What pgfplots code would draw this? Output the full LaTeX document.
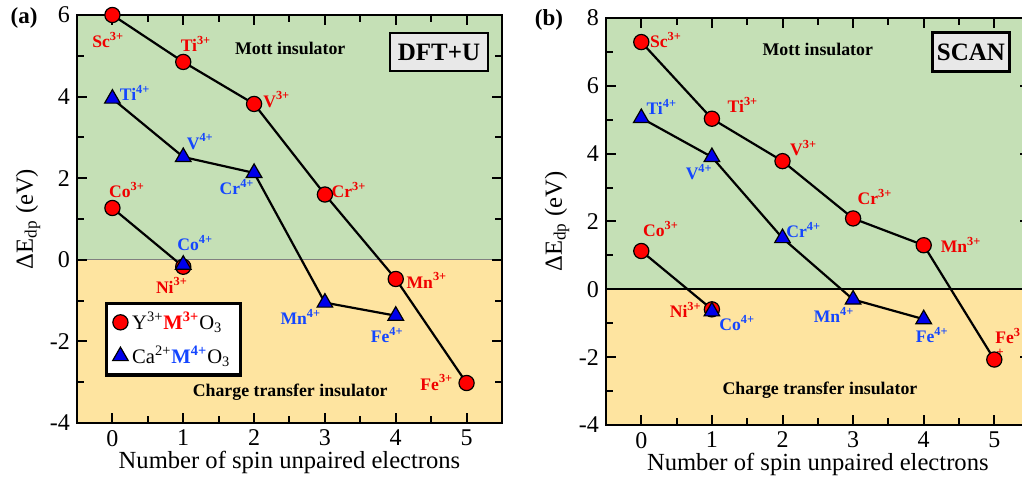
\documentclass[border=0pt]{standalone}
\usepackage{pgfplots}
\pgfplotsset{compat=1.18}
\usepackage{fontspec}
\setmainfont{Liberation Serif}
\definecolor{mottgreen}{RGB}{197,224,182}
\definecolor{ctyellow}{RGB}{254,228,160}
\definecolor{mred}{RGB}{255,0,0}
\definecolor{mblue}{RGB}{0,0,235}
\definecolor{lblue}{RGB}{20,70,255}
\definecolor{lred}{RGB}{240,0,0}
\pgfplotsset{
  myax/.style={
    scale only axis, set layers,
    xmin=-0.5, xmax=5.5, xtick={0,...,5},
    minor x tick num=1, minor y tick num=1,
    tick align=inside,
    major tick length=5pt, minor tick length=3.5pt,
    axis line style={line width=1.2pt},
    every tick/.style={black, line width=1pt},
    tick label style={font=\fontsize{12}{13}\selectfont},
    /pgf/number format/assume math mode=true,
    label style={font=\fontsize{12.3}{14}\selectfont},
    xlabel={Number of spin unpaired electrons},
    ylabel={ΔE\textsubscript{dp} (eV)},
    xlabel style={yshift=4.5pt},
    ylabel style={yshift=-2pt},
  },
  cline/.style={black, line width=1.1pt, no marks},
  rmark/.style={only marks, mark=*, mark size=3.8pt, mark options={fill=mred, draw=black, line width=0.6pt}},
  bmark/.style={only marks, mark=triangle*, mark size=4.5pt, mark options={fill=mblue, draw=black, line width=0.6pt}},
}
\tikzset{
  lab/.style={font=\bfseries\fontsize{8.8}{10}\selectfont, inner sep=0pt},
  region/.style={font=\bfseries\fontsize{8.9}{10}\selectfont, inner sep=0pt},
}
\begin{document}
\begin{tikzpicture}
% ---------------- panel (a)
\begin{axis}[myax, at={(38.5pt,27pt)}, anchor=south west,
  width=212.5pt, height=204pt,
  ymin=-4, ymax=6, ytick={-4,-2,0,2,4,6},
  legend style={at={(0.066,0.297)}, anchor=north west, draw=black, line width=1.6pt,
    font=\fontsize{10.3}{12}\selectfont, inner xsep=3pt, inner ysep=2.5pt, row sep=3pt},
  legend cell align=left]
\pgfonlayer{axis background}
\fill[mottgreen] (axis cs:-0.5,0) rectangle (axis cs:5.5,6);
\fill[ctyellow] (axis cs:-0.5,-4) rectangle (axis cs:5.5,0);
\draw[gray, line width=0.5pt] (axis cs:-0.5,0) -- (axis cs:5.5,0);
\endpgfonlayer
\addlegendimage{only marks, mark=*, mark size=3.8pt, mark options={fill=mred, draw=black, line width=0.6pt}}
\addlegendentry{Y\textsuperscript{3+}\textbf{\color{mred}M\textsuperscript{3+}}O\textsubscript{3}}
\addlegendimage{only marks, mark=triangle*, mark size=4.5pt, mark options={fill=mblue, draw=black, line width=0.6pt}}
\addlegendentry{Ca\textsuperscript{2+}\textbf{\color{lblue}M\textsuperscript{4+}}O\textsubscript{3}}
\addplot[cline, forget plot] coordinates {(0,6.0) (1,4.85) (2,3.82) (3,1.60) (4,-0.47) (5,-3.02)};
\addplot[cline, forget plot] coordinates {(0,1.27) (1,-0.17)};
\addplot[cline, forget plot] coordinates {(0,3.95) (1,2.52) (2,2.13) (3,-1.05) (4,-1.37)};
\addplot[rmark, forget plot] coordinates {(0,6.0) (1,4.85) (2,3.82) (3,1.60) (4,-0.47) (5,-3.02) (0,1.27) (1,-0.17)};
\addplot[bmark, forget plot] coordinates {(0,3.95) (1,2.52) (2,2.13) (3,-1.05) (4,-1.37) (1,-0.12)};
\node[lab, lred] at (axis cs:-0.06,5.39) {Sc\textsuperscript{3+}};
\node[lab, lred] at (axis cs:1.18,5.29) {Ti\textsuperscript{3+}};
\node[lab, lred] at (axis cs:2.32,3.92) {V\textsuperscript{3+}};
\node[lab, lred] at (axis cs:3.34,1.71) {Cr\textsuperscript{3+}};
\node[lab, lred] at (axis cs:4.44,-0.50) {Mn\textsuperscript{3+}};
\node[lab, lred] at (axis cs:4.58,-3.0) {Fe\textsuperscript{3+}};
\node[lab, lred] at (axis cs:0.206,1.71) {Co\textsuperscript{3+}};
\node[lab, lred] at (axis cs:0.84,-0.62) {Ni\textsuperscript{3+}};
\node[lab, lblue] at (axis cs:1.17,0.41) {Co\textsuperscript{4+}};
\node[lab, lblue] at (axis cs:0.32,4.09) {Ti\textsuperscript{4+}};
\node[lab, lblue] at (axis cs:1.24,2.89) {V\textsuperscript{4+}};
\node[lab, lblue] at (axis cs:1.76,1.78) {Cr\textsuperscript{4+}};
\node[lab, lblue] at (axis cs:2.66,-1.40) {Mn\textsuperscript{4+}};
\node[lab, lblue] at (axis cs:3.88,-1.84) {Fe\textsuperscript{4+}};
\node[region] at (axis cs:2.51,5.19) {Mott insulator};
\node[region] at (axis cs:2.51,-3.24) {Charge transfer insulator};
\end{axis}
% ---------------- panel (b)
\begin{axis}[myax, at={(303pt,26pt)}, anchor=south west,
  width=211.8pt, height=203.5pt,
  ymin=-4, ymax=8, ytick={-4,-2,0,2,4,6,8}]
\pgfonlayer{axis background}
\fill[mottgreen] (axis cs:-0.5,0) rectangle (axis cs:5.5,8);
\fill[ctyellow] (axis cs:-0.5,-4) rectangle (axis cs:5.5,0);
\endpgfonlayer
\draw[black, line width=1.1pt] (axis cs:-0.5,0) -- (axis cs:5.5,0);
\addplot[cline] coordinates {(0,7.29) (1,5.03) (2,3.78) (3,2.09) (4,1.30) (5,-2.07)};
\addplot[cline] coordinates {(0,1.13) (1,-0.59)};
\addplot[cline] coordinates {(0,5.05) (1,3.90) (2,1.51) (3,-0.30) (4,-0.88)};
\addplot[rmark] coordinates {(0,7.29) (1,5.03) (2,3.78) (3,2.09) (4,1.30) (5,-2.07) (0,1.13) (1,-0.59)};
\addplot[bmark] coordinates {(0,5.05) (1,3.90) (2,1.51) (3,-0.30) (4,-0.88) (1,-0.65)};
\node[lab, lred] at (axis cs:0.35,7.35) {Sc\textsuperscript{3+}};
\node[lab, lred] at (axis cs:1.44,5.44) {Ti\textsuperscript{3+}};
\node[lab, lred] at (axis cs:2.30,4.17) {V\textsuperscript{3+}};
\node[lab, lred] at (axis cs:3.31,2.72) {Cr\textsuperscript{3+}};
\node[lab, lred] at (axis cs:4.53,1.31) {Mn\textsuperscript{3+}};
\node[lab, lred, anchor=west] at (axis cs:5.01,-1.38) {Fe\textsuperscript{3}};
\node[inner sep=0pt, lred, font=\bfseries\fontsize{6.5}{7}\selectfont] at (axis cs:5.08,-1.88) {+};
\node[lab, lred] at (axis cs:0.28,1.78) {Co\textsuperscript{3+}};
\node[lab, lred] at (axis cs:0.63,-0.61) {Ni\textsuperscript{3+}};
\node[lab, lblue] at (axis cs:1.36,-0.99) {Co\textsuperscript{4+}};
\node[lab, lblue] at (axis cs:0.29,5.38) {Ti\textsuperscript{4+}};
\node[lab, lblue] at (axis cs:0.82,3.46) {V\textsuperscript{4+}};
\node[lab, lblue] at (axis cs:2.30,1.75) {Cr\textsuperscript{4+}};
\node[lab, lblue] at (axis cs:2.73,-0.76) {Mn\textsuperscript{4+}};
\node[lab, lblue] at (axis cs:4.12,-1.35) {Fe\textsuperscript{4+}};
\node[region] at (axis cs:2.50,7.06) {Mott insulator};
\node[region] at (axis cs:2.53,-2.97) {Charge transfer insulator};
\end{axis}
% boxes and panel letters
\node[draw=black, line width=1.2pt, fill=gray!18, minimum width=49pt, minimum height=19pt, inner sep=0pt,
  font=\bfseries\fontsize{12.5}{14}\selectfont] at (219.5pt,212.5pt) {DFT+U};
\node[draw=black, line width=1.2pt, fill=gray!18, minimum width=38.5pt, minimum height=19.5pt, inner sep=0pt,
  font=\bfseries\fontsize{12.5}{14}\selectfont] at (485.5pt,212.5pt) {SCAN};
\node[font=\bfseries\fontsize{11.5}{13}\selectfont] at (12pt,229.5pt) {(a)};
\node[font=\bfseries\fontsize{11.5}{13}\selectfont] at (274.5pt,228.5pt) {(b)};
\pgfresetboundingbox
\path[use as bounding box] (0,0) rectangle (511pt,238.5pt);
\end{tikzpicture}
\end{document}
